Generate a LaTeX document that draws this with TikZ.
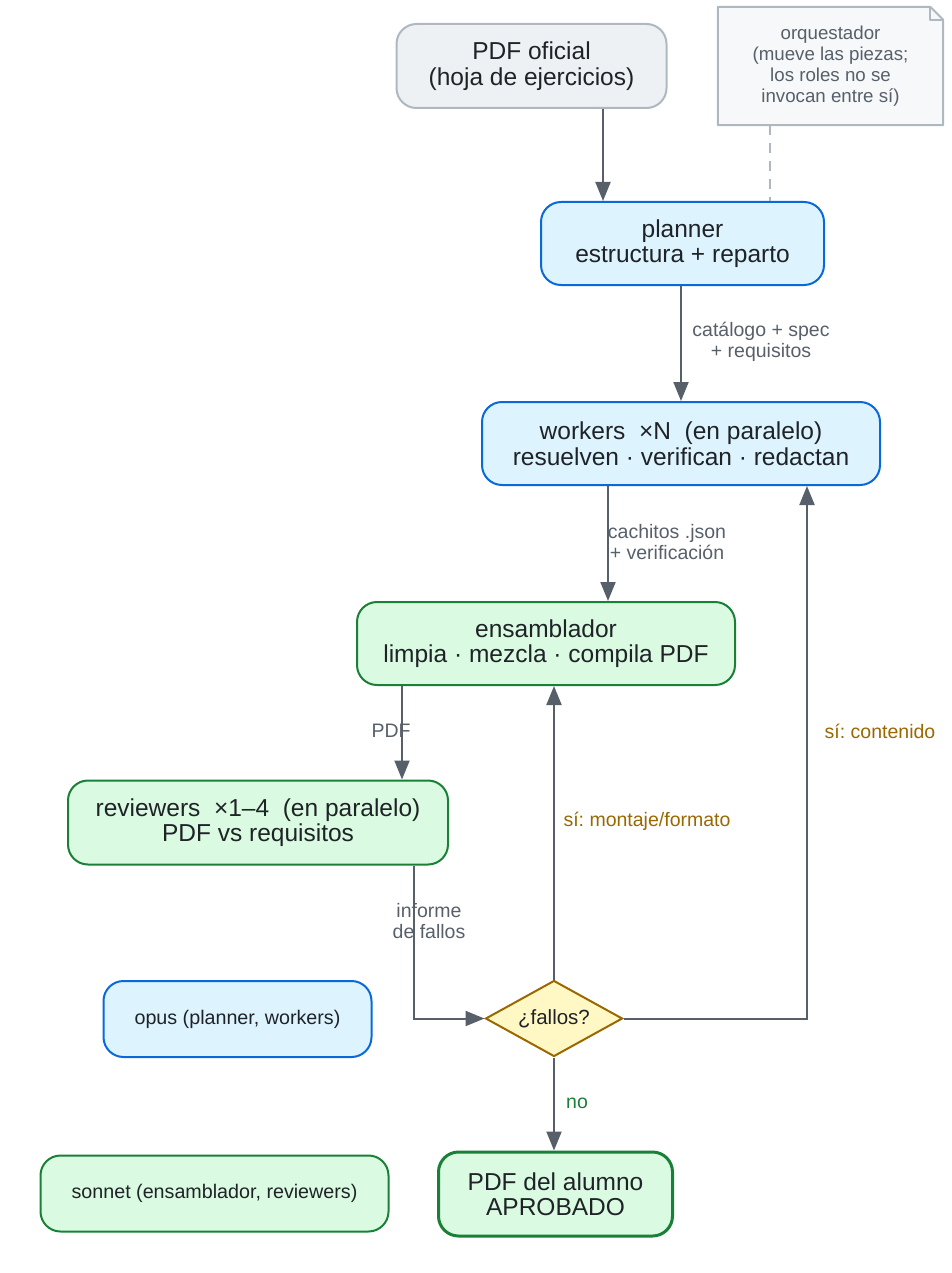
\documentclass[tikz,border=0pt]{standalone}
\usepackage{fontspec}
\setmainfont{Liberation Sans}
\usetikzlibrary{arrows.meta,shapes.geometric}
\frenchspacing
\definecolor{ink}{HTML}{1F2328}
\definecolor{edgec}{HTML}{57606A}
\definecolor{blueB}{HTML}{0969DA}
\definecolor{blueF}{HTML}{DDF4FF}
\definecolor{greenB}{HTML}{1A7F37}
\definecolor{greenF}{HTML}{DAFBE1}
\definecolor{grayB}{HTML}{AFB8C1}
\definecolor{grayF}{HTML}{EEF1F4}
\definecolor{noteF}{HTML}{F6F8FA}
\definecolor{yelB}{HTML}{9A6700}
\definecolor{yelF}{HTML}{FFF8C5}
\tikzset{
  box/.style={rectangle, rounded corners=20pt, line width=2pt, align=center,
    font=\fontsize{24.5}{25.5}\selectfont, text=ink, inner sep=0pt},
  bluebox/.style={box, draw=blueB, fill=blueF},
  greenbox/.style={box, draw=greenB, fill=greenF},
  graybox/.style={box, draw=grayB, fill=grayF},
  legend/.style={font=\fontsize{19.7}{21}\selectfont},
  edge/.style={draw=edgec, line width=2pt, -{Triangle[width=15pt,length=19pt]}},
  lab/.style={align=center, font=\fontsize{19.5}{20.5}\selectfont, text=edgec, inner sep=0pt},
  yeslab/.style={lab, text=yelB},
  nolab/.style={lab, text=greenB},
}
\begin{document}
\begin{tikzpicture}[x=1pt,y=-1pt]
\useasboundingbox (0,0) rectangle (952,1273);

% nodes
\node[graybox, minimum width=270, minimum height=84] (src) at (531.5,66) {PDF oficial\\(hoja de ejercicios)};
\node[bluebox, minimum width=283, minimum height=83] (planner) at (682.5,243.5) {planner\\estructura + reparto};
\node[bluebox, minimum width=398, minimum height=83] (workers) at (681,443.5) {workers\ \ ×N\ \ (en paralelo)\\resuelven · verifican · redactan};
\node[greenbox, minimum width=378, minimum height=83] (ens) at (546,643.5) {ensamblador\\limpia · mezcla · compila PDF};
\node[greenbox, minimum width=380, minimum height=84] (rev) at (258,822.5) {reviewers\ \ ×1–4\ \ (en paralelo)\\PDF vs requisitos};
\node[diamond, shape aspect=1.8, draw=yelB, fill=yelF, line width=2pt, minimum width=137, minimum height=76,
  inner sep=0pt, font=\fontsize{20.5}{22}\selectfont, text=ink] (dia) at (554,1018.5) {¿fallos?};
\node[greenbox, line width=3pt, minimum width=234, minimum height=84] (final) at (555.5,1194) {PDF del alumno\\APROBADO};
\node[bluebox, legend, minimum width=268, minimum height=76] (opus) at (237.5,1019) {opus (planner, workers)};
\node[greenbox, legend, minimum width=348, minimum height=76] (sonnet) at (214.5,1193.5) {sonnet (ensamblador, reviewers)};

% note
\node[rectangle, minimum width=225, minimum height=118, inner sep=0pt] (note) at (830.5,66) {};
\draw[draw=grayB, fill=noteF, line width=2pt, line join=round]
  (note.north west) -- ([xshift=-13pt]note.north east) -- ([yshift=-13pt]note.north east)
  -- (note.south east) -- (note.south west) -- cycle;
\draw[draw=grayB, line width=1.5pt, line join=round]
  ([xshift=-13pt]note.north east) -- ([xshift=-13pt,yshift=-13pt]note.north east) -- ([yshift=-13pt]note.north east);
\node[rectangle, inner sep=0pt, align=center, font=\fontsize{18.7}{21}\selectfont, text=edgec] (notetext) at (note.center)
  {orquestador\\(mueve las piezas;\\los roles no se\\invocan entre sí)};

% helper columns
\coordinate (c603) at (603,0);
\coordinate (c770) at (770,0);
\coordinate (c402) at (402,0);
\coordinate (c414) at (414,0);
\coordinate (c608) at (608,0);
\coordinate (c807) at (807,0);

% edges
\draw[edge] (src.south -| c603) -- (planner.north -| c603);
\draw[draw=grayB, line width=2pt, dash pattern=on 10pt off 8pt] (note.south -| c770) -- (planner.north -| c770);
\draw[edge] (planner.south -| workers.north) -- (workers.north);
\draw[edge] (workers.south -| c608) -- (ens.north -| c608);
\draw[edge] (ens.south -| c402) -- (rev.north -| c402);
\draw[edge] (rev.south -| c414) |- (dia.west);
\draw[edge] (dia.north) -- (ens.south -| dia.north);
\draw[edge] (dia.east) -| (workers.south -| c807);
\draw[edge] (dia.south) -- (final.north -| dia.south);

% labels
\node[lab] (l1) at (761,342) {catálogo + spec\\+ requisitos};
\node[lab] (l2) at (667,542) {cachitos .json\\+ verificación};
\node[lab] (l3) at (391,731) {PDF};
\node[lab] (l4) at (429,921) {informe\\de fallos};
\node[yeslab] (l5) at (647,821) {sí: montaje/formato};
\node[yeslab] (l6) at (880,731) {sí: contenido};
\node[nolab] (l7) at (577,1103) {no};
\end{tikzpicture}
\end{document}
